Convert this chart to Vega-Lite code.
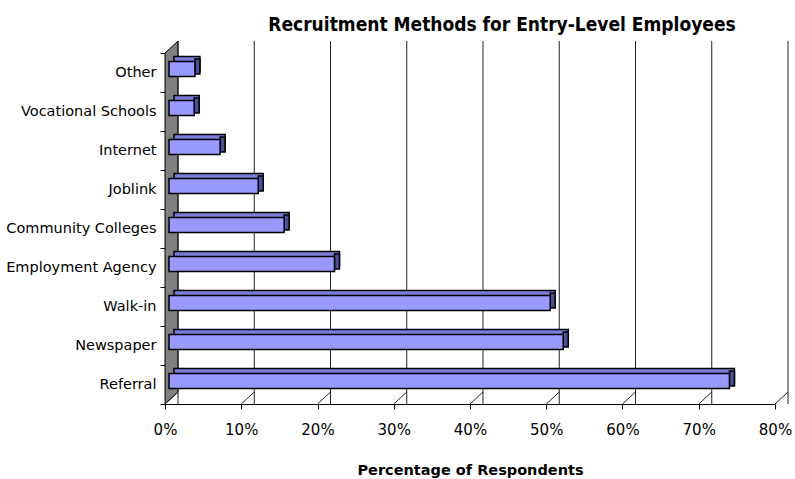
{
  "$schema": "https://vega.github.io/schema/vega-lite/v6.json",
  "autosize": "none",
  "width": 610,
  "height": 351,
  "padding": {"left": 165, "top": 53, "right": 20, "bottom": 75},
  "background": "white",
  "title": {
    "text": "Recruitment Methods for Entry-Level Employees",
    "font": "Liberation Sans Narrow, DejaVu Sans Condensed",
    "fontSize": 19,
    "fontWeight": "bold",
    "color": "black",
    "anchor": "middle",
    "baseline": "alphabetic",
    "dx": 32,
    "dy": 17,
    "offset": 6
  },
  "datasets": {
    "methods": [
      {"method": "Other", "share": 0.034},
      {"method": "Vocational Schools", "share": 0.033},
      {"method": "Internet", "share": 0.067},
      {"method": "Joblink", "share": 0.117},
      {"method": "Community Colleges", "share": 0.151},
      {"method": "Employment Agency", "share": 0.217},
      {"method": "Walk-in", "share": 0.5},
      {"method": "Newspaper", "share": 0.517},
      {"method": "Referral", "share": 0.735}
    ],
    "ticks": [
      {"pct": 0}, {"pct": 0.1}, {"pct": 0.2}, {"pct": 0.3}, {"pct": 0.4},
      {"pct": 0.5}, {"pct": 0.6}, {"pct": 0.7}, {"pct": 0.8}
    ]
  },
  "config": {
    "view": {"stroke": null},
    "axis": {"grid": false}
  },
  "layer": [
    {
      "data": {"values": [{}]},
      "mark": {
        "type": "point",
        "shape": "M0,0L13,-12L13,-363L0,-351Z",
        "size": 4,
        "filled": true,
        "fill": "#808080",
        "fillOpacity": 1,
        "stroke": "black",
        "strokeWidth": 1,
        "opacity": 1
      },
      "encoding": {
        "x": {"datum": 0, "type": "quantitative", "scale": {"domain": [0, 0.8]}},
        "y": {"value": "height"}
      }
    },
    {
      "data": {"name": "ticks"},
      "mark": {"type": "rule", "color": "#222222", "strokeWidth": 1, "xOffset": 13, "yOffset": -12, "y2Offset": -12},
      "encoding": {
        "x": {"field": "pct", "type": "quantitative"}
      }
    },
    {
      "data": {"name": "ticks"},
      "mark": {"type": "rule", "color": "#222222", "strokeWidth": 1, "x2Offset": 13, "y2Offset": -12},
      "encoding": {
        "x": {"field": "pct", "type": "quantitative"},
        "x2": {"field": "pct"},
        "y": {"value": "height"},
        "y2": {"value": "height"}
      }
    },
    {
      "data": {"name": "methods"},
      "layer": [
        {
          "mark": {"type": "bar", "size": 15, "fill": "#7b7bd8", "stroke": "black", "strokeWidth": 1.5, "xOffset": 9, "x2Offset": 9, "yOffset": -8.5, "y2Offset": -8.5},
          "encoding": {
            "x": {"field": "share", "type": "quantitative"}
          }
        },
        {
          "mark": {"type": "bar", "size": 15, "fill": "#4d4d99", "stroke": "black", "strokeWidth": 1.5, "xOffset": 4, "x2Offset": 9, "yOffset": -6, "y2Offset": -6},
          "encoding": {
            "x": {"field": "share", "type": "quantitative"},
            "x2": {"field": "share"}
          }
        },
        {
          "mark": {"type": "bar", "size": 15, "fill": "#9999ff", "stroke": "black", "strokeWidth": 1.5, "xOffset": 4, "x2Offset": 4, "yOffset": -3.5, "y2Offset": -3.5},
          "encoding": {
            "x": {
              "field": "share",
              "type": "quantitative",
              "scale": {"domain": [0, 0.8]},
              "axis": {
                "values": [0, 0.1, 0.2, 0.3, 0.4, 0.5, 0.6, 0.7, 0.8],
                "format": ".0%",
                "title": "Percentage of Respondents",
                "titleFont": "DejaVu Sans",
                "titleFontSize": 14.5,
                "titleFontWeight": "bold",
                "titleColor": "black",
                "titlePadding": 26,
                "labelFont": "DejaVu Sans",
                "labelFontSize": 15,
                "labelColor": "black",
                "labelPadding": 13,
                "tickSize": 5,
                "tickColor": "black",
                "domainColor": "black",
                "labelFlush": false
              }
            }
          }
        }
      ],
      "encoding": {
        "y": {
          "field": "method",
          "type": "nominal",
          "sort": null,
          "scale": {"paddingInner": 0, "paddingOuter": 0},
          "axis": {
            "title": null,
            "labelFont": "DejaVu Sans",
            "labelFontSize": 14.5,
            "labelColor": "black",
            "labelPadding": 4,
            "tickSize": 5,
            "tickColor": "black",
            "tickBand": "extent",
            "domainColor": "black"
          }
        }
      }
    }
  ]
}
